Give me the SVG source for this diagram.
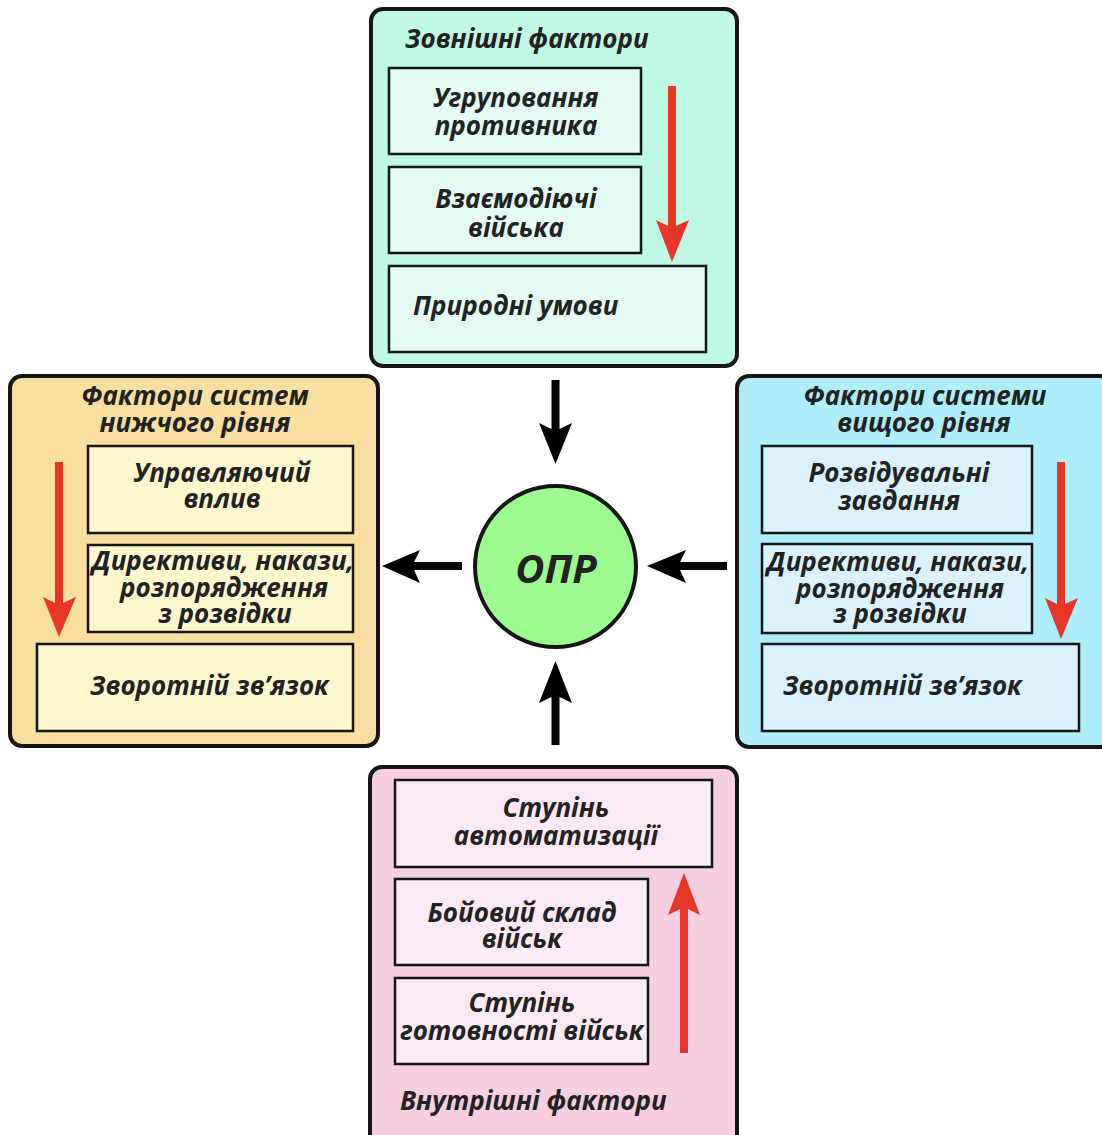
<svg xmlns="http://www.w3.org/2000/svg" width="1102" height="1135" viewBox="0 0 1102 1135">
  <style>
    .panel { stroke: #151515; stroke-width: 4; }
    .box { stroke: #151515; stroke-width: 2.5; }
    .t { font-family: "Open Sans", "Noto Sans", "DejaVu Sans", sans-serif; font-weight: 700; font-style: italic; font-size: 26px; fill: #222; }
    .c { text-anchor: middle; }
    .red { fill: #e8352a; }
    .blk { fill: #000; }
  </style>
  <rect width="1102" height="1135" fill="#ffffff"/>

  <!-- External factors -->
  <g id="external">
    <rect class="panel" x="371" y="9" width="366" height="357" rx="12" fill="#bff8e4"/>
    <text class="t" x="405" y="48">Зовнішні фактори</text>
    <g id="ext-enemy">
      <rect class="box" x="389" y="68" width="252" height="86" fill="#e3fbf4"/>
      <text class="t c" y="107"><tspan x="516">Угруповання</tspan><tspan x="516" dy="28">противника</tspan></text>
    </g>
    <g id="ext-allies">
      <rect class="box" x="389" y="167" width="252" height="86" fill="#e3fbf4"/>
      <text class="t c" y="208"><tspan x="516">Взаємодіючі</tspan><tspan x="516" dy="29">війська</tspan></text>
    </g>
    <g id="ext-nature">
      <rect class="box" x="389" y="266" width="317" height="86" fill="#e3fbf4"/>
      <text class="t" x="413" y="315">Природні умови</text>
    </g>
    <path class="red" d="M668 86 H676 V226 L689 220 L672 262 L656 220 L668 226 Z"/>
  </g>

  <!-- Lower-level system factors -->
  <g id="lower">
    <rect class="panel" x="10" y="376" width="368" height="370" rx="12" fill="#f9dea1"/>
    <text class="t c" y="405"><tspan x="195">Фактори систем</tspan><tspan x="195" dy="27">нижчого рівня</tspan></text>
    <g id="low-control">
      <rect class="box" x="88" y="446" width="265" height="87" fill="#fdf7cd"/>
      <text class="t c" y="482"><tspan x="222">Управляючий</tspan><tspan x="222" dy="26">вплив</tspan></text>
    </g>
    <g id="low-directives">
      <rect class="box" x="88" y="545" width="265" height="87" fill="#fdf7cd"/>
      <text class="t c" y="570"><tspan x="223">Директиви, накази,</tspan><tspan x="224" dy="27">розпорядження</tspan><tspan x="225" dy="26">з розвідки</tspan></text>
    </g>
    <g id="low-feedback">
      <rect class="box" x="37" y="644" width="316" height="87" fill="#fdf7cd"/>
      <text class="t" x="90" y="695">Зворотній зв’язок</text>
    </g>
    <path class="red" d="M55 462 H63 V603 L76 597 L59 637 L43 597 L55 603 Z"/>
  </g>

  <!-- Higher-level system factors -->
  <g id="higher">
    <rect class="panel" x="737" y="376" width="375" height="371" rx="12" fill="#aeeefb"/>
    <text class="t c" y="405"><tspan x="925">Фактори системи</tspan><tspan x="924" dy="27">вищого рівня</tspan></text>
    <g id="high-tasks">
      <rect class="box" x="762" y="446" width="270" height="87" fill="#d9f2fd"/>
      <text class="t c" y="482"><tspan x="899">Розвідувальні</tspan><tspan x="899" dy="28">завдання</tspan></text>
    </g>
    <g id="high-directives">
      <rect class="box" x="762" y="544" width="270" height="89" fill="#d9f2fd"/>
      <text class="t c" y="571"><tspan x="898">Директиви, накази,</tspan><tspan x="900" dy="27">розпорядження</tspan><tspan x="900" dy="25">з розвідки</tspan></text>
    </g>
    <g id="high-feedback">
      <rect class="box" x="762" y="644" width="317" height="87" fill="#d9f2fd"/>
      <text class="t" x="783" y="695">Зворотній зв’язок</text>
    </g>
    <path class="red" d="M1057 462 H1065 V604 L1078 598 L1061 639 L1045 598 L1057 604 Z"/>
  </g>

  <!-- Internal factors -->
  <g id="internal">
    <rect class="panel" x="370" y="767" width="367" height="380" rx="12" fill="#f6cfe0"/>
    <g id="int-automation">
      <rect class="box" x="395" y="780" width="317" height="87" fill="#fbe9f5"/>
      <text class="t c" y="817"><tspan x="556">Ступінь</tspan><tspan x="556" dy="28">автоматизації</tspan></text>
    </g>
    <g id="int-strength">
      <rect class="box" x="395" y="879" width="253" height="86" fill="#fbe9f5"/>
      <text class="t c" y="922"><tspan x="522">Бойовий склад</tspan><tspan x="522" dy="26">військ</tspan></text>
    </g>
    <g id="int-readiness">
      <rect class="box" x="395" y="978" width="253" height="86" fill="#fbe9f5"/>
      <text class="t c" y="1012"><tspan x="522">Ступінь</tspan><tspan x="522" dy="28">готовності військ</tspan></text>
    </g>
    <text class="t" x="400" y="1110">Внутрішні фактори</text>
    <path class="red" d="M680 1053 H688 V909 L700 915 L684 873 L668 915 L680 909 Z"/>
  </g>

  <!-- Decision maker -->
  <g id="opr">
    <circle cx="555.5" cy="566.5" r="80.5" fill="#9cfb8e" stroke="#151515" stroke-width="4"/>
    <text class="t c" x="556" y="583" style="font-size:40px">ОПР</text>
  </g>

  <!-- Connectors -->
  <g id="connectors">
    <path class="blk" d="M551.5 380 H559.5 V429 L572 423 L555.5 464 L539 423 L551.5 429 Z"/>
    <path class="blk" d="M551.5 745 H559.5 V697 L572 703 L555.5 661 L539 703 L551.5 697 Z"/>
    <path class="blk" d="M462 562 V570 H414 L420 583 L382 566 L420 550 L414 562 Z"/>
    <path class="blk" d="M727 562 V570 H680 L686 583 L647 566 L686 550 L680 562 Z"/>
  </g>
</svg>
